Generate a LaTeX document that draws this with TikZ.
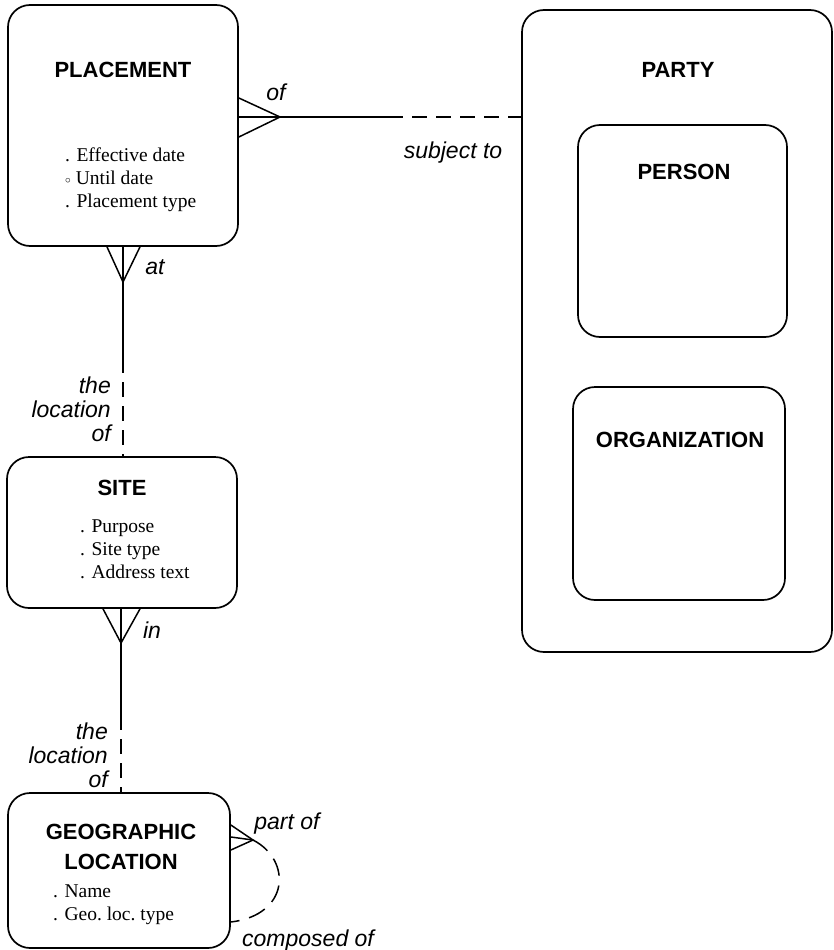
\documentclass[tikz,border=0pt]{standalone}
\usepackage{fontspec}
\setmainfont{Liberation Serif}
\setsansfont{Liberation Sans}
\usetikzlibrary{calc}

\tikzset{
  ebox/.style={draw, line width=1.7pt, rounded corners=22pt, inner sep=0pt},
  etitle/.style={font=\sffamily\bfseries\fontsize{22}{30}\selectfont, align=center, inner sep=0pt},
  attr/.style={font=\fontsize{19.5}{22.8}\selectfont, align=left, inner sep=0pt, anchor=west},
  rlabel/.style={font=\sffamily\itshape\fontsize{23}{24}\selectfont, inner sep=0pt},
  rel/.style={line width=1.5pt},
  reldash/.style={line width=1.5pt, dash pattern=on 15pt off 9pt},
}
\newcommand{\optmark}{\raisebox{0.05ex}{\scalebox{0.55}{$\circ$}}}

\begin{document}
\begin{tikzpicture}[x=1pt, y=-1pt]
\useasboundingbox (0,0) rectangle (834,950);

% entity boxes
\node[ebox, minimum width=230pt, minimum height=241pt] (placement) at (123,125.5) {};
\node[ebox, minimum width=230pt, minimum height=151pt] (site) at (122,532.5) {};
\node[ebox, minimum width=222pt, minimum height=155pt] (geo) at (119,870.5) {};
\node[ebox, minimum width=310pt, minimum height=642pt] (party) at (677,331) {};
\node[ebox, minimum width=209pt, minimum height=212pt] (person) at (682.5,231) {};
\node[ebox, minimum width=212pt, minimum height=213pt] (org) at (679,493.5) {};

% titles
\node[etitle] (tplacement) at (123,70) {PLACEMENT};
\node[etitle] (tsite) at (122,488) {SITE};
\node[etitle] (tgeo) at (121,847) {GEOGRAPHIC\\LOCATION};
\node[etitle] (tparty) at (678,70) {PARTY};
\node[etitle] (tperson) at (684,172) {PERSON};
\node[etitle] (torg) at (680,440) {ORGANIZATION};

% attributes
\node[attr] (aplacement) at (65,179.5) {. Effective date\\\optmark\ Until date\\. Placement type};
\node[attr] (asite) at (80,549) {. Purpose\\. Site type\\. Address text};
\node[attr] (ageo) at (53,905) {. Name\\. Geo.\ loc.\ type};

% PLACEMENT -- PARTY
\coordinate (ofA) at (280,117);
\coordinate (ofM) at (388,117);
\draw[rel] ([yshift=19pt]placement.east |- ofA) -- (ofA) -- ([yshift=-20pt]placement.east |- ofA);
\draw[rel] (placement.east |- ofA) -- (ofM);
\draw[reldash] (ofM) -- (party.west |- ofA);
\node[rlabel] (lof) at (276,92) {of};
\node[rlabel] (lsubj) at (453,153) {subject to};

% PLACEMENT -- SITE
\coordinate (atA) at (123,282);
\coordinate (atM) at (123,358);
\draw[rel] ([xshift=-16pt]placement.south) -- (atA) -- ([xshift=17pt]placement.south);
\draw[rel] (placement.south) -- (atM);
\draw[reldash] (atM) -- (site.north -| atM);
\node[rlabel] (lat) at (155,267) {at};
\node[rlabel, align=right, anchor=east] (lloc1) at (111,409) {the\\location\\of};

% SITE -- GEOGRAPHIC LOCATION
\coordinate (inA) at (121,643);
\coordinate (inM) at (121,715);
\draw[rel] ([xshift=-18pt]site.south -| inA) -- (inA) -- ([xshift=19pt]site.south -| inA);
\draw[rel] (site.south -| inA) -- (inM);
\draw[reldash] (inM) -- (geo.north -| inM);
\node[rlabel] (lin) at (152,630) {in};
\node[rlabel, align=right, anchor=east] (lloc2) at (108,755) {the\\location\\of};

% GEOGRAPHIC LOCATION recursive relationship
\coordinate (poA) at (253,840);
\coordinate (coE) at (231,922);
\draw[rel] ([yshift=15pt]geo.east |- poA) -- (poA) -- ([yshift=-10pt]geo.east |- poA);
\draw[rel] ([yshift=3pt]geo.east |- poA) -- (poA);
\draw[rel, dash pattern=on 18pt off 10pt] (poA) .. controls (292,860) and (290,915) .. (geo.east |- coE);
\node[rlabel] (lpart) at (287,824) {part of};
\node[rlabel, anchor=west] (lcomp) at (242,941) {composed of};
\end{tikzpicture}
\end{document}
